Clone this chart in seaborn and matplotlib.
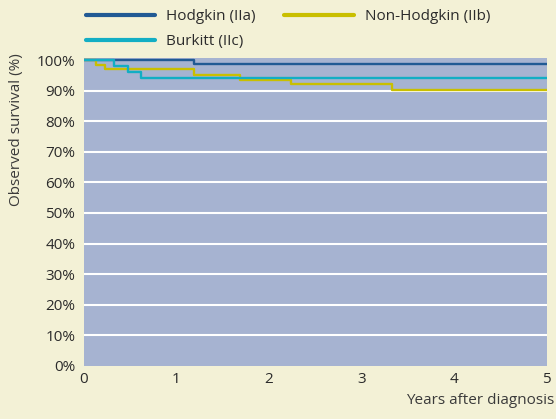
import numpy as np
import pandas as pd
import matplotlib
matplotlib.use("Agg")
import matplotlib.pyplot as plt
import seaborn as sns
from matplotlib.lines import Line2D

# ---- data ----
groups = ["Hodgkin (IIa)", "Non-Hodgkin (IIb)", "Burkitt (IIc)"]
hodgkin_t = [0, 1.19, 5]
hodgkin_s = [100, 98.8, 98.8]
nhl_t = [0, 0.14, 0.23, 1.19, 1.69, 2.24, 3.33, 5]
nhl_s = [100, 98.6, 97.1, 95.3, 93.6, 92.1, 90.2, 90.2]
burkitt_t = [0, 0.33, 0.48, 0.62, 5]
burkitt_s = [100, 98.1, 96.2, 94.3, 94.3]
x_ticks = [0, 1, 2, 3, 4, 5]
y_ticks = [0, 10, 20, 30, 40, 50, 60, 70, 80, 90, 100]
y_ticklabels = [f"{v}%" for v in y_ticks]

colors = {"Hodgkin (IIa)": "#215a94", "Non-Hodgkin (IIb)": "#c9bf00", "Burkitt (IIc)": "#12aec4"}

df = pd.concat([
    pd.DataFrame({"t": hodgkin_t, "s": hodgkin_s, "g": groups[0]}),
    pd.DataFrame({"t": nhl_t, "s": nhl_s, "g": groups[1]}),
    pd.DataFrame({"t": burkitt_t, "s": burkitt_s, "g": groups[2]}),
], ignore_index=True)

sns.set_theme(style="white")
plt.rcParams["font.family"] = ["Open Sans", "DejaVu Sans"]

bg = "#f3f1d6"
fig = plt.figure(figsize=(5.56, 4.19), dpi=100, facecolor=bg)
ax = fig.add_axes([83.5/556, 1-365.7/419, (546.5-83.5)/556, (365.7-58.3)/419])
ax.set_facecolor("#a6b3d1")

for yv in y_ticks[1:-1]:
    ax.axhline(yv, color="white", lw=1.5, zorder=1)

for g in groups:
    sub = df[df.g == g]
    sns.lineplot(data=sub, x="t", y="s", ax=ax, color=colors[g], lw=1.7,
                 drawstyle="steps-post", zorder=3, legend=False)

ax.set_xlim(0, 5)
ax.set_ylim(0, 100.65)
ax.set_xticks(x_ticks)
ax.set_xticklabels([str(v) for v in x_ticks])
ax.set_yticks(y_ticks)
ax.set_yticklabels(y_ticklabels)
ax.tick_params(axis="both", length=0, labelsize=11, labelcolor="#2b2b2b")
ax.tick_params(axis="y", pad=6)
ax.tick_params(axis="x", pad=4.5)
for sp in ax.spines.values():
    sp.set_visible(False)
ax.set_xlabel("")
ax.set_ylabel("")

fig.text(554/556, 1-400/419, "Years after diagnosis", ha="right", va="center",
         fontsize=11, color="#3a3a3a")
fig.text(17/556, 1-53/419, "Observed survival (%)", rotation=90, ha="center", va="top",
         fontsize=11, color="#3a3a3a")

handles = [Line2D([0], [0], color=colors[g], lw=3, solid_capstyle="round") for g in groups]
order = [0, 2, 1]
leg = fig.legend([handles[i] for i in order], [groups[i] for i in order],
                 loc="upper left", bbox_to_anchor=(85.5/556, 1-9.5/419), ncol=2,
                 frameon=False, fontsize=11, handlelength=4.58, handletextpad=0.68,
                 columnspacing=1.9, labelspacing=0.65, borderpad=0, borderaxespad=0)
for t in leg.get_texts():
    t.set_color("#2b2b2b")

fig.savefig("out.png", dpi=100, facecolor=bg)
